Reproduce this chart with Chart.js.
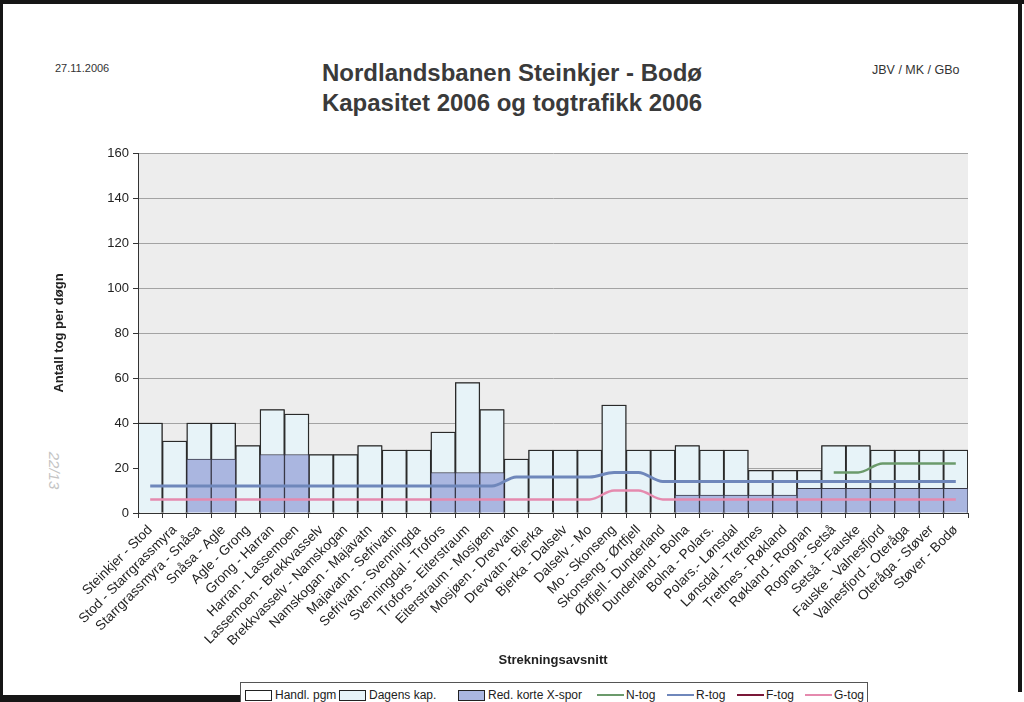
<!DOCTYPE html>
<html lang="no">
<head>
<meta charset="utf-8">
<title>Nordlandsbanen Steinkjer - Bodø</title>
<script src="https://cdn.jsdelivr.net/npm/chart.js@4.4.0/dist/chart.umd.min.js"></script>
<style>
    html, body { margin: 0; padding: 0; background: #fff; }
    body {
        width: 1024px; height: 702px; position: relative; overflow: hidden;
        font-family: "Liberation Sans", Arial, sans-serif; color: #333;
    }
    #chart { position: absolute; left: 0; top: 0; }
    .scan-top { position: absolute; left: 0; top: 0; width: 1024px; height: 4px; background: #161616; }
    .scan-left { position: absolute; left: 0; top: 0; width: 3px; height: 702px; background: #161616; }
    .scan-right { position: absolute; left: 1018px; top: 0; width: 4px; height: 692px; background: #161616; }
    .scan-bottom { position: absolute; left: 0; top: 695px; width: 260px; height: 7px; background: #161616; }
    .date { position: absolute; left: 55px; top: 62px; font-size: 11px; }
    .ref { position: absolute; left: 872px; top: 63px; font-size: 12.5px; }
    .title {
        position: absolute; left: 0; width: 1024px; top: 58px; text-align: center;
        font-size: 24px; font-weight: bold; line-height: 30px; color: #3a3a3a;
    }
    .note {
        position: absolute; left: 36px; top: 462px; font-size: 15px; color: #c4c4c4;
        font-style: italic; transform: rotate(90deg);
    }
    #legend {
        position: absolute; left: 240px; top: 682px; width: 628px; height: 40px;
        border: 1px solid #555; background: #fff; box-sizing: border-box;
        font-size: 12px; color: #222;
    }
    #legend .item { position: absolute; top: 5px; display: flex; align-items: center; white-space: nowrap; }
    #legend .box { width: 25px; height: 9px; border: 1px solid #222; margin-right: 3px; }
    #legend .line { width: 27px; height: 0; border-top: 2px solid; margin-right: 2px; }
</style>
</head>
<body>
<div class="scan-top"></div>
<div class="scan-left"></div>
<div class="scan-right"></div>
<div class="scan-bottom"></div>

<div class="date">27.11.2006</div>
<div class="title">Nordlandsbanen Steinkjer - Bodø<br>Kapasitet 2006 og togtrafikk 2006</div>
<div class="ref">JBV / MK / GBo</div>
<div class="note">22/13</div>

<canvas id="chart" width="1024" height="702"></canvas>
<div id="legend"></div>

<script>
// Strekningsavsnitt
const categories = [
    'Steinkjer - Stod', 'Stod - Starrgrassmyra', 'Starrgrassmyra - Snåsa', 'Snåsa - Agle',
    'Agle - Grong', 'Grong - Harran', 'Harran - Lassemoen', 'Lassemoen - Brekkvasselv',
    'Brekkvasselv - Namskogan', 'Namskogan - Majavatn', 'Majavatn - Sefrivatn', 'Sefrivatn - Svenningda',
    'Svenningdal - Trofors', 'Trofors - Eiterstraum', 'Eiterstraum - Mosjøen', 'Mosjøen - Drevvatn',
    'Drevvatn - Bjerka', 'Bjerka - Dalselv', 'Dalselv - Mo', 'Mo - Skonseng',
    'Skonseng - Ørtfjell', 'Ørtfjell - Dunderland', 'Dunderland - Bolna', 'Bolna - Polars.',
    'Polars.- Lønsdal', 'Lønsdal - Trettnes', 'Trettnes - Røkland', 'Røkland - Rognan',
    'Rognan - Setså', 'Setså - Fauske', 'Fauske - Valnesfjord', 'Valnesfjord - Oteråga',
    'Oteråga - Støver', 'Støver - Bodø'
];

// Kapasitet (tog per døgn)
const handlPgm = [40, 32, 40, 40, 30, 46, 44, 26, 26, 30, 28, 28, 36, 58, 46, 24, 28, 28, 28, 48,
                  28, 28, 30, 28, 28, 19, 19, 19, 30, 30, 28, 28, 28, 28];
const dagensKap = [40, 32, 40, 40, 30, 46, 44, 26, 26, 30, 28, 28, 36, 58, 46, 24, 28, 28, 28, 48,
                   28, 28, 30, 28, 28, 19, 19, 19, 30, 30, 28, 28, 28, 28];
const redKorteXspor = [null, null, 24, 24, null, 26, 26, null, null, null, null, null, 18, 18, 18, null,
                       null, null, null, null, null, null, 8, 8, 8, 8, 8, 11, 11, 11, 11, 11, 11, 11];

// Togtrafikk
const nTog = [null, null, null, null, null, null, null, null, null, null, null, null, null, null,
              null, null, null, null, null, null, null, null, null, null, null, null, null, null,
              18, 18, 22, 22, 22, 22];
const rTog = [12, 12, 12, 12, 12, 12, 12, 12, 12, 12, 12, 12, 12, 12, 12, 16, 16, 16, 16, 18,
              18, 14, 14, 14, 14, 14, 14, 14, 14, 14, 14, 14, 14, 14];
const fTog = [];
const gTog = [6, 6, 6, 6, 6, 6, 6, 6, 6, 6, 6, 6, 6, 6, 6, 6, 6, 6, 6, 10,
              10, 6, 6, 6, 6, 6, 6, 6, 6, 6, 6, 6, 6, 6];

const yTicks = [0, 20, 40, 60, 80, 100, 120, 140, 160];

const FONT = '"Liberation Sans", Arial, sans-serif';
Chart.defaults.font.family = FONT;
Chart.defaults.color = '#222';

// grå bakgrunn i plottområdet
const plotBackground = {
    id: 'plotBackground',
    beforeDraw(chart) {
        const { ctx, chartArea: a } = chart;
        ctx.save();
        ctx.fillStyle = '#ededed';
        ctx.fillRect(a.left, a.top, a.right - a.left, a.bottom - a.top);
        ctx.restore();
    }
};

const barBase = {
    type: 'bar',
    grouped: false,
    categoryPercentage: 1,
    barPercentage: 1,
    borderColor: '#2a2a2a',
    borderWidth: 1.3
};
const lineBase = {
    type: 'line',
    pointRadius: 0,
    borderWidth: 2.5,
    cubicInterpolationMode: 'monotone',
    spanGaps: false,
    order: 0
};

const chart = new Chart(document.getElementById('chart'), {
    data: {
        labels: categories,
        datasets: [
            { ...barBase, label: 'Handl. pgm', data: handlPgm, backgroundColor: '#ffffff', order: 3 },
            { ...barBase, label: 'Dagens kap.', data: dagensKap, backgroundColor: '#e7f3f8', order: 2 },
            { ...barBase, label: 'Red. korte X-spor', data: redKorteXspor, backgroundColor: '#aab6e0',
              borderColor: '#3a3a4a', borderWidth: 1, order: 1 },
            { ...lineBase, label: 'N-tog', data: nTog, borderColor: '#6b9a6b' },
            { ...lineBase, label: 'R-tog', data: rTog, borderColor: '#6f87bb', borderWidth: 3 },
            { ...lineBase, label: 'F-tog', data: fTog, borderColor: '#7a1838' },
            { ...lineBase, label: 'G-tog', data: gTog, borderColor: '#e58aae' }
        ]
    },
    options: {
        responsive: false,
        animation: false,
        devicePixelRatio: 1,
        layout: { padding: { left: 48, right: 56, top: 153, bottom: 30 } },
        plugins: {
            legend: { display: false },
            tooltip: { enabled: false }
        },
        scales: {
            x: {
                offset: true,
                grid: {
                    offset: true,
                    drawOnChartArea: false,
                    drawTicks: true,
                    tickLength: 5,
                    color: '#333'
                },
                border: { color: '#333', width: 1 },
                ticks: {
                    autoSkip: false,
                    minRotation: 45,
                    maxRotation: 45,
                    padding: 4,
                    color: '#222',
                    font: { size: 13.5 }
                },
                title: {
                    display: true,
                    text: 'Strekningsavsnitt',
                    color: '#222',
                    font: { size: 13, weight: 'bold' }
                },
                afterFit: scale => { scale.height = 159; }
            },
            y: {
                min: 0,
                max: 160,
                afterBuildTicks: scale => { scale.ticks = yTicks.map(v => ({ value: v })); },
                grid: { color: '#a3a3a3', tickColor: '#333', tickLength: 5, lineWidth: 1 },
                border: { color: '#333', width: 1 },
                ticks: { color: '#222', font: { size: 13 }, padding: 4 },
                title: {
                    display: true,
                    text: 'Antall tog per døgn',
                    color: '#222',
                    font: { size: 13, weight: 'bold' }
                },
                afterFit: scale => { scale.width = 90; }
            }
        }
    },
    plugins: [plotBackground]
});

// Egen tegnforklaring under figuren
const legendLeft = [4, 98, 217, 356, 426, 496, 564];
const legend = document.getElementById('legend');
chart.data.datasets.forEach((ds, i) => {
    const item = document.createElement('div');
    item.className = 'item';
    item.style.left = legendLeft[i] + 'px';
    const sample = ds.type === 'bar'
        ? `<span class="box" style="background:${ds.backgroundColor}"></span>`
        : `<span class="line" style="border-color:${ds.borderColor}"></span>`;
    item.innerHTML = `${sample}<span>${ds.label}</span>`;
    legend.appendChild(item);
});
</script>
</body>
</html>
